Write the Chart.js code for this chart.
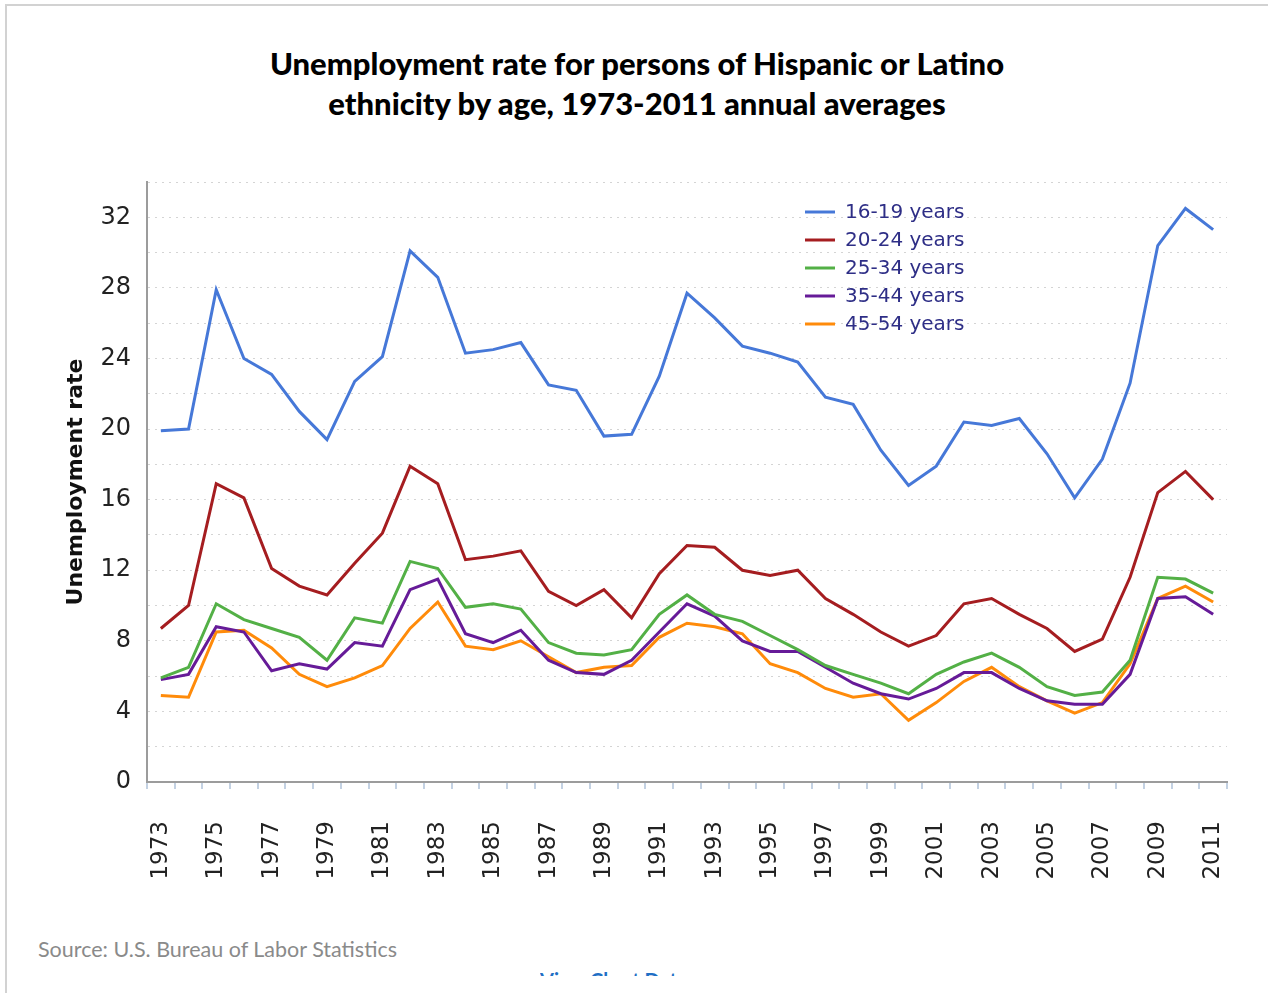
<!DOCTYPE html>
<html>
<head>
<meta charset="utf-8">
<script src="https://cdn.jsdelivr.net/npm/chart.js@4.4.1/dist/chart.umd.min.js"></script>
<style>
  html, body { margin: 0; padding: 0; background: #fff; }
  body { width: 1268px; height: 993px; position: relative; overflow: hidden; }
  .frame {
    position: absolute; left: 5px; top: 4px; width: 1270px; height: 1000px;
    border-top: 2px solid #d2d2d2; border-left: 2px solid #d2d2d2;
  }
  .title {
    position: absolute; left: 6px; width: 1262px; top: 43px;
    text-align: center; font: 900 31px Lato, sans-serif; line-height: 40px; color: #000;
  }
  #chart { position: absolute; left: 0; top: 150px; }
  .source {
    position: absolute; left: 38px; top: 936px; line-height: 24px;
    font: 21.5px Lato, sans-serif; color: #8a8a8a;
  }
  .more {
    position: absolute; left: 540px; top: 972px; height: 4px; overflow: hidden;
  }
  .more span {
    display: block; margin-top: -4px; font: bold 20px Lato, sans-serif;
    line-height: 24px; color: #1f6fc5; white-space: nowrap;
  }
</style>
</head>
<body>
<div class="frame"></div>
<div class="title">Unemployment rate for persons of Hispanic or Latino<br>ethnicity by age, 1973-2011 annual averages</div>
<canvas id="chart" width="1268" height="740"></canvas>
<div class="source">Source: U.S. Bureau of Labor Statistics</div>
<div class="more"><span>View Chart Data</span></div>

<script>
// ===== DATA (annual averages, percent) =====
const years = [
  '1973', '1974', '1975', '1976', '1977', '1978', '1979', '1980', '1981', '1982',
  '1983', '1984', '1985', '1986', '1987', '1988', '1989', '1990', '1991', '1992',
  '1993', '1994', '1995', '1996', '1997', '1998', '1999', '2000', '2001', '2002',
  '2003', '2004', '2005', '2006', '2007', '2008', '2009', '2010', '2011',
];

const age16to19 = [
  19.9, 20.0, 27.9, 24.0, 23.1, 21.0, 19.4, 22.7, 24.1, 30.1,
  28.6, 24.3, 24.5, 24.9, 22.5, 22.2, 19.6, 19.7, 23.0, 27.7,
  26.3, 24.7, 24.3, 23.8, 21.8, 21.4, 18.8, 16.8, 17.9, 20.4,
  20.2, 20.6, 18.6, 16.1, 18.3, 22.6, 30.4, 32.5, 31.3,
];

const age20to24 = [
  8.7, 10.0, 16.9, 16.1, 12.1, 11.1, 10.6, 12.4, 14.1, 17.9,
  16.9, 12.6, 12.8, 13.1, 10.8, 10.0, 10.9, 9.3, 11.8, 13.4,
  13.3, 12.0, 11.7, 12.0, 10.4, 9.5, 8.5, 7.7, 8.3, 10.1,
  10.4, 9.5, 8.7, 7.4, 8.1, 11.6, 16.4, 17.6, 16.0,
];

const age25to34 = [
  5.9, 6.5, 10.1, 9.2, 8.7, 8.2, 6.9, 9.3, 9.0, 12.5,
  12.1, 9.9, 10.1, 9.8, 7.9, 7.3, 7.2, 7.5, 9.5, 10.6,
  9.5, 9.1, 8.3, 7.5, 6.6, 6.1, 5.6, 5.0, 6.1, 6.8,
  7.3, 6.5, 5.4, 4.9, 5.1, 6.9, 11.6, 11.5, 10.7,
];

const age35to44 = [
  5.8, 6.1, 8.8, 8.5, 6.3, 6.7, 6.4, 7.9, 7.7, 10.9,
  11.5, 8.4, 7.9, 8.6, 6.9, 6.2, 6.1, 6.9, 8.5, 10.1,
  9.4, 8.0, 7.4, 7.4, 6.5, 5.6, 5.0, 4.7, 5.3, 6.2,
  6.2, 5.3, 4.6, 4.4, 4.4, 6.1, 10.4, 10.5, 9.5,
];

const age45to54 = [
  4.9, 4.8, 8.5, 8.6, 7.6, 6.1, 5.4, 5.9, 6.6, 8.7,
  10.2, 7.7, 7.5, 8.0, 7.1, 6.2, 6.5, 6.6, 8.2, 9.0,
  8.8, 8.4, 6.7, 6.2, 5.3, 4.8, 5.0, 3.5, 4.5, 5.7,
  6.5, 5.4, 4.6, 3.9, 4.5, 6.7, 10.4, 11.1, 10.2,
];

const seriesLabels = ['16-19 years', '20-24 years', '25-34 years', '35-44 years', '45-54 years'];
const seriesColors = ['#4678d8', '#a51d20', '#53b046', '#661b98', '#ff8b0a'];

const yMin = 0;
const yMax = 34;
const yStep = 2;

// ===== LEGEND DRAWN INSIDE THE PLOT =====
const insideLegend = {
  id: 'insideLegend',
  afterDatasetsDraw(chart) {
    const { ctx, chartArea } = chart;
    const x = chartArea.left + 658;
    let y = chartArea.top + 30;
    ctx.save();
    ctx.font = '20px "DejaVu Sans", sans-serif';
    ctx.textBaseline = 'middle';
    ctx.textAlign = 'left';
    chart.data.datasets.forEach(ds => {
      ctx.strokeStyle = ds.borderColor;
      ctx.lineWidth = 3;
      ctx.beginPath();
      ctx.moveTo(x, y);
      ctx.lineTo(x + 30, y);
      ctx.stroke();
      ctx.fillStyle = '#2e2e86';
      ctx.fillText(ds.label, x + 40, y + 1);
      y += 28;
    });
    ctx.restore();
  },
};

const seriesData = [age16to19, age20to24, age25to34, age35to44, age45to54];

new Chart(document.getElementById('chart').getContext('2d'), {
  type: 'line',
  data: {
    labels: years,
    datasets: seriesData.map((data, i) => ({
      label: seriesLabels[i],
      data,
      borderColor: seriesColors[i],
      backgroundColor: seriesColors[i],
      borderWidth: 3,
      pointRadius: 0,
      pointHoverRadius: 0,
      tension: 0,
      fill: false,
    })),
  },
  options: {
    responsive: false,
    animation: false,
    layout: { padding: { top: 32, right: 41, left: 0, bottom: 0 } },
    plugins: {
      legend: { display: false },
      title: { display: false },
      tooltip: { enabled: false },
    },
    scales: {
      x: {
        type: 'category',
        offset: true,
        afterFit(scale) {
          scale.height = 108;
          scale.paddingLeft = 0;
          scale.paddingRight = 0;
        },
        grid: {
          offset: true,
          drawOnChartArea: false,
          drawTicks: true,
          tickLength: 7,
          color: '#c3d1e2',
          lineWidth: 2,
        },
        border: { color: '#9c9c9c', width: 2 },
        ticks: {
          autoSkip: false,
          minRotation: 90,
          maxRotation: 90,
          padding: 32,
          color: '#222',
          font: { family: '"DejaVu Sans", sans-serif', size: 23 },
          callback(value, index) {
            return index % 2 === 0 ? this.getLabelForValue(value) : '';
          },
        },
      },
      y: {
        min: yMin,
        max: yMax,
        afterFit(scale) {
          scale.width = 147;
          scale.paddingTop = 0;
          scale.paddingBottom = 0;
        },
        grid: { color: '#d4d4d4', lineWidth: 1, drawTicks: false },
        border: { color: '#9c9c9c', width: 2, dash: [2, 5] },
        ticks: {
          stepSize: yStep,
          padding: 16,
          color: '#222',
          font: { family: '"DejaVu Sans", sans-serif', size: 24 },
          callback: v => (v % 4 === 0 ? v : ''),
        },
        title: {
          display: true,
          text: 'Unemployment rate',
          color: '#111',
          font: { family: '"DejaVu Sans", sans-serif', size: 22, weight: 'bold' },
          padding: { top: 63, bottom: 0 },
        },
      },
    },
  },
  plugins: [insideLegend],
});
</script>
</body>
</html>
